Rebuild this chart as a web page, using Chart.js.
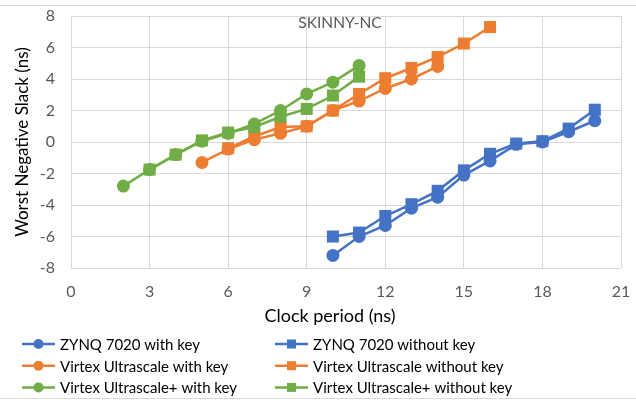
<!DOCTYPE html>
<html lang="en">

<head>
    <meta charset="UTF-8">
    <title>SKINNY-NC</title>
    <style>
        body { margin: 0; background: #ffffff; }
        #wrap { width: 636px; height: 400px; position: relative; }
    </style>
</head>
<script src="https://cdn.jsdelivr.net/npm/chart.js"></script>

<body>
    <div id="wrap"><canvas id="chart_wns"></canvas></div>
</body>

<script>
    // values
    var zynqX = [10, 11, 12, 13, 14, 15, 16, 17, 18, 19, 20];
    var zynqWithKey = [-7.2, -6.0, -5.3, -4.2, -3.5, -2.1, -1.2, -0.15, 0.0, 0.65, 1.35];
    var zynqWithoutKey = [-6.0, -5.75, -4.7, -3.95, -3.1, -1.8, -0.75, -0.1, 0.05, 0.85, 2.05];

    var virtexWithKeyX = [5, 6, 7, 8, 9, 10, 11, 12, 13, 14];
    var virtexWithKey = [-1.3, -0.45, 0.15, 0.55, 1.0, 2.0, 2.6, 3.4, 4.0, 4.8];
    var virtexWithoutKeyX = [6, 7, 8, 9, 10, 11, 12, 13, 14, 15, 16];
    var virtexWithoutKey = [-0.4, 0.35, 0.95, 1.0, 2.0, 3.05, 4.05, 4.7, 5.4, 6.25, 7.3];

    var plusWithKeyX = [2, 3, 4, 5, 6, 7, 8, 9, 10, 11];
    var plusWithKey = [-2.8, -1.75, -0.8, 0.05, 0.55, 1.15, 2.0, 3.05, 3.8, 4.85];
    var plusWithoutKeyX = [3, 4, 5, 6, 7, 8, 9, 10, 11];
    var plusWithoutKey = [-1.75, -0.8, 0.1, 0.6, 0.95, 1.6, 2.1, 2.95, 4.15];

    var seriesNames = [
        'ZYNQ 7020 with key', 'ZYNQ 7020 without key',
        'Virtex Ultrascale with key', 'Virtex Ultrascale without key',
        'Virtex Ultrascale+ with key', 'Virtex Ultrascale+ without key'
    ];
    var xTicks = [0, 3, 6, 9, 12, 15, 18, 21];

    var BLUE = '#4472C4', ORANGE = '#ED7D31', GREEN = '#70AD47';
    var FONT = 'Lato, "Open Sans", sans-serif';

    function pts(xs, ys) {
        return xs.map((x, i) => ({ x: x, y: ys[i] }));
    }

    function makeSet(i, xs, ys, color, withKey) {
        return {
            label: seriesNames[i],
            data: pts(xs, ys),
            showLine: true,
            borderColor: color,
            backgroundColor: color,
            borderWidth: 2.5,
            pointStyle: withKey ? 'circle' : 'rect',
            pointRadius: withKey ? 6.5 : 8.5,
            pointBorderWidth: 0,
            order: 6 - i,
        };
    }

    var datasets = [
        makeSet(0, zynqX, zynqWithKey, BLUE, true),
        makeSet(1, zynqX, zynqWithoutKey, BLUE, false),
        makeSet(2, virtexWithKeyX, virtexWithKey, ORANGE, true),
        makeSet(3, virtexWithoutKeyX, virtexWithoutKey, ORANGE, false),
        makeSet(4, plusWithKeyX, plusWithKey, GREEN, true),
        makeSet(5, plusWithoutKeyX, plusWithoutKey, GREEN, false),
    ];

    // title inside the plot, x title, custom legend and the frame lines
    var extras = {
        id: 'extras',
        afterDraw(chart) {
            var ctx = chart.ctx;
            var area = chart.chartArea;
            ctx.save();

            ctx.strokeStyle = '#d9d9d9';
            ctx.lineWidth = 1;
            ctx.beginPath();
            ctx.moveTo(0, 5.5); ctx.lineTo(636, 5.5);
            ctx.moveTo(0, 398.5); ctx.lineTo(636, 398.5);
            ctx.stroke();

            ctx.fillStyle = '#595959';
            ctx.font = '15.5px ' + FONT;
            ctx.textAlign = 'center';
            ctx.textBaseline = 'middle';
            ctx.fillText('SKINNY-NC', (area.left + area.right) / 2 - 6, 23);

            ctx.fillStyle = '#000000';
            ctx.font = '18px ' + FONT;
            ctx.fillText('Clock period (ns)', (area.left + area.right) / 2 - 16, 316);

            ctx.textAlign = 'left';
            ctx.font = '15px ' + FONT;
            chart.data.datasets.forEach((ds, i) => {
                var x0 = (i % 2) ? 275 : 22;
                var y = 344 + Math.floor(i / 2) * 21.7;
                ctx.strokeStyle = ds.borderColor;
                ctx.lineWidth = 2.5;
                ctx.beginPath();
                ctx.moveTo(x0, y); ctx.lineTo(x0 + 33, y);
                ctx.stroke();
                ctx.fillStyle = ds.backgroundColor;
                if (ds.pointStyle == 'circle') {
                    ctx.beginPath();
                    ctx.arc(x0 + 16.5, y, 5, 0, Math.PI * 2);
                    ctx.fill();
                } else {
                    ctx.fillRect(x0 + 12, y - 4.5, 9, 9);
                }
                ctx.fillStyle = '#000000';
                ctx.fillText(ds.label, x0 + 38, y + 1);
            });
            ctx.restore();
        }
    };

    new Chart(document.getElementById('chart_wns'), {
        type: 'scatter',
        data: { datasets: datasets },
        plugins: [extras],
        options: {
            responsive: true,
            maintainAspectRatio: false,
            animation: false,
            layout: { autoPadding: false, padding: { left: 12, top: 16, right: 15, bottom: 84 } },
            plugins: {
                legend: { display: false },
                tooltip: { enabled: false }
            },
            scales: {
                x: {
                    type: 'linear',
                    min: 0,
                    max: 21,
                    afterFit: (s) => { s.height = 48; s.paddingRight = 0; s.paddingLeft = 0; },
                    afterBuildTicks: (s) => { s.ticks = xTicks.map(v => ({ value: v })); },
                    grid: { color: '#d9d9d9', lineWidth: 1, drawTicks: false },
                    border: { display: false },
                    ticks: { color: '#595959', padding: 14, font: { family: FONT, size: 16 }, maxRotation: 0 },
                    title: { display: false }
                },
                y: {
                    min: -8,
                    max: 8,
                    afterFit: (s) => { s.width = 59; s.paddingTop = 0; s.paddingBottom = 0; },
                    grid: { color: '#d9d9d9', lineWidth: 1, drawTicks: false },
                    border: { display: false },
                    ticks: { stepSize: 2, color: '#595959', padding: 16, font: { family: FONT, size: 16 } },
                    title: {
                        display: true,
                        text: 'Worst Negative Slack (ns)',
                        color: '#000000',
                        padding: 0,
                        font: { family: FONT, size: 17 }
                    }
                }
            }
        }
    });
</script>

</html>
